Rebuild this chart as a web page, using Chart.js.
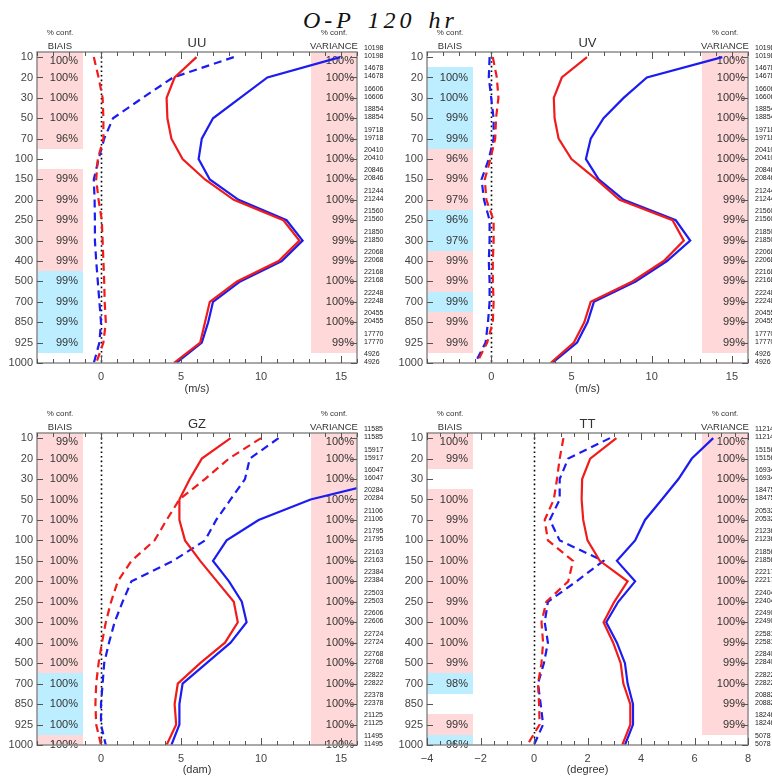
<!DOCTYPE html>
<html>
<head>
<meta charset="utf-8">
<script src="https://cdn.jsdelivr.net/npm/chart.js@4.4.1/dist/chart.umd.min.js"></script>
<style>
  body { margin: 0; background: #fff; width: 772px; height: 778px; position: relative; overflow: hidden; }
  canvas { position: absolute; }
  #title { position: absolute; left: 303px; top: 8px; font: italic 24px 'Liberation Serif', serif; line-height: 24px;
           letter-spacing: 4px; word-spacing: 3px; white-space: pre; color: #111; }
</style>
</head>
<body>
<div id="title">O-P 120 hr</div>
<canvas id="uu" width="386" height="400" style="left:0;top:0"></canvas>
<canvas id="uv" width="386" height="400" style="left:386px;top:0"></canvas>
<canvas id="gz" width="386" height="388" style="left:0;top:390px"></canvas>
<canvas id="tt" width="386" height="388" style="left:386px;top:390px"></canvas>
<script>
// pressure levels (hPa), drawn top to bottom
const levels = [10, 20, 30, 50, 70, 100, 150, 200, 250, 300, 400, 500, 700, 850, 925, 1000];

// UU
const uuRedStd   = [5.97, 4.6, 4.1, 4.15, 4.4, 5.1, 6.5, 8.3, 11.4, 12.4, 11.1, 8.5, 6.8, 6.5, 6.2, 4.55];
const uuBlueStd  = [14.95, 10.4, 8.7, 7.0, 6.3, 6.1, 6.8, 8.6, 11.6, 12.6, 11.3, 8.7, 7.0, 6.7, 6.3, 4.7];
const uuRedBias  = [-0.45, -0.15, 0.1, 0.15, 0.15, -0.2, -0.3, -0.15, 0.05, 0.1, 0.15, 0.2, 0.23, 0.3, 0.15, -0.3];
const uuBlueBias = [8.3, 4.5, 2.6, 0.75, 0.2, -0.15, -0.45, -0.4, -0.38, -0.38, -0.3, -0.2, -0.1, 0.0, -0.1, -0.45];
const uuBiasConf  = ['100%', '100%', '100%', '100%', '96%', null, '99%', '99%', '99%', '99%', '99%', '99%', '99%', '99%', '99%', null];
const uuBiasColor = ['r', 'r', 'r', 'r', 'r', null, 'r', 'r', 'r', 'r', 'r', 'b', 'b', 'b', 'b', null];
const uuVarConf   = ['100%', '100%', '100%', '100%', '100%', '100%', '100%', '100%', '99%', '99%', '99%', '100%', '100%', '100%', '99%', null];
const uuVarColor  = ['r', 'r', 'r', 'r', 'r', 'r', 'r', 'r', 'r', 'r', 'r', 'r', 'r', 'r', 'r', null];
const uuCounts = [10198, 14678, 16606, 18854, 19718, 20410, 20846, 21244, 21560, 21850, 22068, 22168, 22248, 20455, 17770, 4926];

// UV
const uvRedStd   = [5.97, 4.4, 3.9, 3.95, 4.2, 5.0, 6.55, 8.0, 11.3, 12.0, 10.75, 8.8, 6.2, 5.8, 5.15, 3.7];
const uvBlueStd  = [14.4, 9.7, 8.25, 7.0, 6.2, 5.9, 6.7, 8.25, 11.5, 12.4, 10.95, 9.0, 6.4, 6.0, 5.35, 3.8];
const uvRedBias  = [0.1, 0.35, 0.45, 0.3, 0.25, -0.05, -0.4, -0.3, 0.15, 0.15, 0.1, 0.1, 0.15, 0.1, -0.25, -0.9];
const uvBlueBias = [-0.1, -0.15, 0.0, 0.15, 0.15, -0.15, -0.6, -0.45, -0.1, -0.1, -0.15, -0.1, -0.1, -0.2, -0.35, -1.0];
const uvBiasConf  = [null, '100%', '100%', '99%', '99%', '96%', '99%', '97%', '96%', '97%', '99%', '99%', '99%', '99%', '99%', null];
const uvBiasColor = [null, 'b', 'b', 'b', 'b', 'r', 'r', 'r', 'b', 'b', 'r', 'r', 'b', 'r', 'r', null];
const uvVarConf   = ['100%', '100%', '100%', '100%', '100%', '100%', '100%', '99%', '99%', '99%', '99%', '99%', '99%', '99%', '99%', null];
const uvVarColor  = ['r', 'r', 'r', 'r', 'r', 'r', 'r', 'r', 'r', 'r', 'r', 'r', 'r', 'r', 'r', null];
const uvCounts = [10198, 14678, 16606, 18854, 19718, 20410, 20846, 21244, 21560, 21850, 22068, 22168, 22248, 20455, 17770, 4926];

// GZ
const gzRedStd   = [8.1, 6.3, 5.55, 4.9, 4.9, 5.25, 6.2, 7.25, 8.3, 8.55, 7.75, 6.2, 4.8, 4.6, 4.7, 4.1];
const gzBlueStd  = [22.0, 20.5, 18.3, 13.1, 9.85, 7.85, 7.0, 8.0, 8.8, 9.1, 8.1, 6.6, 5.1, 4.9, 4.9, 4.4];
const gzRedBias  = [10.0, 8.0, 6.5, 4.9, 4.1, 3.35, 1.9, 1.05, 0.63, 0.3, 0.06, -0.15, -0.3, -0.35, -0.3, 0.0];
const gzBlueBias = [11.1, 9.3, 9.0, 8.1, 7.2, 6.5, 4.5, 1.9, 1.35, 0.85, 0.5, 0.2, 0.1, 0.0, 0.0, 0.3];
const gzBiasConf  = ['99%', '100%', '100%', '100%', '100%', '100%', '100%', '100%', '100%', '100%', '100%', '100%', '100%', '100%', '100%', '100%'];
const gzBiasColor = ['r', 'r', 'r', 'r', 'r', 'r', 'r', 'r', 'r', 'r', 'r', 'r', 'b', 'b', 'b', 'r'];
const gzVarConf   = ['100%', '100%', '100%', '100%', '100%', '100%', '100%', '100%', '100%', '100%', '100%', '100%', '100%', '100%', '100%', '100%'];
const gzVarColor  = ['r', 'r', 'r', 'r', 'r', 'r', 'r', 'r', 'r', 'r', 'r', 'r', 'r', 'r', 'r', 'r'];
const gzCounts = [11585, 15917, 16047, 20284, 21106, 21795, 22163, 22384, 22503, 22606, 22724, 22768, 22822, 22378, 21125, 11495];

// TT
const ttRedStd   = [3.08, 2.1, 1.8, 1.78, 1.84, 2.0, 2.46, 3.5, 3.0, 2.6, 2.96, 3.24, 3.34, 3.6, 3.6, 3.3];
const ttBlueStd  = [6.7, 5.9, 5.4, 4.78, 4.15, 3.78, 3.1, 3.78, 3.15, 2.7, 3.1, 3.4, 3.5, 3.7, 3.7, 3.4];
const ttRedBias  = [1.1, 0.96, 0.86, 0.74, 0.4, 0.52, 1.46, 1.28, 0.46, 0.28, 0.34, 0.28, 0.15, 0.19, 0.21, -0.25];
const ttBlueBias = [2.84, 1.28, 0.96, 0.96, 0.59, 0.96, 2.59, 1.59, 0.52, 0.4, 0.52, 0.37, 0.15, 0.25, 0.34, 0.0];
const ttBiasConf  = ['100%', '99%', null, '100%', '99%', '100%', '100%', '100%', '99%', '100%', '100%', '99%', '98%', null, '99%', '96%'];
const ttBiasColor = ['r', 'r', null, 'r', 'r', 'r', 'r', 'r', 'r', 'r', 'r', 'r', 'b', null, 'r', 'b'];
const ttVarConf   = ['100%', '100%', '100%', '100%', '100%', '100%', '100%', '100%', '100%', '100%', '99%', '99%', '100%', '99%', '99%', null];
const ttVarColor  = ['r', 'r', 'r', 'r', 'r', 'r', 'r', 'r', 'r', 'r', 'r', 'r', 'r', 'r', 'r', null];
const ttCounts = [11214, 15156, 16934, 18475, 20532, 21236, 21856, 22217, 22404, 22490, 22581, 22840, 22822, 20882, 18246, 5078];

// x tick labels
const windTicks = [0, 5, 10, 15];
const ttTicks = [-4, -2, 0, 2, 4, 6, 8];

const RED = '#f01c1c';
const BLUE = '#1c1cf0';
const PINK = '#ffd9d9';
const CYAN = '#bdeeff';
const FONT = "'Liberation Sans', Arial, sans-serif";
const COLW = 46;

function pts(vals) {
  return vals.map((v, i) => ({ x: v, y: i }));
}

function panelPlugin(o) {
  return {
    id: 'panel_' + o.id,
    beforeDatasetsDraw(chart) {
      const { ctx, chartArea: a, scales: { x, y } } = chart;
      ctx.save();
      const band = (colors, x1, x2) => {
        colors.forEach((c, i) => {
          if (!c) return;
          const y1 = i === 0 ? a.top : Math.round(y.getPixelForValue(i - 0.5));
          const y2 = i === levels.length - 1 ? a.bottom : Math.round(y.getPixelForValue(i + 0.5));
          ctx.fillStyle = c === 'r' ? PINK : CYAN;
          ctx.fillRect(x1, y1, x2 - x1, y2 - y1);
        });
      };
      band(o.biasColor, a.left, a.left + COLW);
      band(o.varColor, a.right - COLW, a.right);

      // confidence labels
      ctx.fillStyle = '#333';
      ctx.font = '11px ' + FONT;
      ctx.textAlign = 'right';
      ctx.textBaseline = 'middle';
      levels.forEach((lv, i) => {
        const ty = Math.max(y.getPixelForValue(i), a.top + 9);
        if (o.biasConf[i]) ctx.fillText(o.biasConf[i], a.left + COLW - 5, ty);
        if (o.varConf[i]) ctx.fillText(o.varConf[i], a.right - 3, ty);
      });

      // zero line
      const x0 = Math.round(x.getPixelForValue(0)) + 0.5;
      ctx.strokeStyle = '#000';
      ctx.lineWidth = 1.6;
      ctx.setLineDash([1.6, 3]);
      ctx.beginPath();
      ctx.moveTo(x0, a.top);
      ctx.lineTo(x0, a.bottom);
      ctx.stroke();
      ctx.restore();
    },
    afterDraw(chart) {
      const { ctx, chartArea: a, scales: { x, y } } = chart;
      ctx.save();
      // frame
      ctx.strokeStyle = '#8c8c8c';
      ctx.lineWidth = 1.5;
      ctx.strokeRect(a.left, a.top, a.right - a.left, a.bottom - a.top);

      // inward ticks
      ctx.strokeStyle = '#555';
      ctx.lineWidth = 1;
      ctx.beginPath();
      levels.forEach((lv, i) => {
        const ty = Math.round(y.getPixelForValue(i)) + 0.5;
        ctx.moveTo(a.left, ty); ctx.lineTo(a.left + 6, ty);
        ctx.moveTo(a.right, ty); ctx.lineTo(a.right - 6, ty);
      });
      const steps = Math.round((o.xmax - o.xmin) / o.minor);
      for (let k = 0; k <= steps; k++) {
        const v = o.xmin + k * o.minor;
        const major = o.xTicks.some(t => Math.abs(t - v) < 1e-6);
        const len = major ? 7 : 4;
        const tx = Math.round(x.getPixelForValue(v)) + 0.5;
        ctx.moveTo(tx, a.bottom); ctx.lineTo(tx, a.bottom - len);
        ctx.moveTo(tx, a.top); ctx.lineTo(tx, a.top + len);
      }
      ctx.stroke();

      // header
      ctx.fillStyle = '#333';
      ctx.textAlign = 'center';
      ctx.textBaseline = 'middle';
      const bc = a.left + COLW / 2;
      const vc = a.right - COLW / 2;
      ctx.font = '8px ' + FONT;
      ctx.fillText('% conf.', bc, a.top - 19);
      ctx.fillText('% conf.', vc, a.top - 19);
      ctx.font = '9.5px ' + FONT;
      ctx.fillText('BIAIS', bc, a.top - 6);
      ctx.fillText('VARIANCE', vc, a.top - 6);
      ctx.font = '13px ' + FONT;
      ctx.fillText(o.name, (a.left + a.right) / 2, a.top - 9);

      // axis title
      ctx.font = '11px ' + FONT;
      ctx.fillText(o.unit, (a.left + a.right) / 2, a.bottom + o.unitGap);

      // counts
      ctx.font = '7px ' + FONT;
      ctx.textAlign = 'left';
      ctx.fillStyle = '#222';
      o.counts.forEach((n, i) => {
        const ty = y.getPixelForValue(i);
        ctx.fillText(String(n), a.right + 7, ty - 9);
        ctx.fillText(String(n), a.right + 7, ty - 1);
      });
      ctx.restore();
    }
  };
}

function makePanel(o) {
  const lines = [
    { data: pts(o.redStd), borderColor: RED, borderDash: [] },
    { data: pts(o.blueStd), borderColor: BLUE, borderDash: [] },
    { data: pts(o.redBias), borderColor: RED, borderDash: [8, 5] },
    { data: pts(o.blueBias), borderColor: BLUE, borderDash: [8, 5] },
  ];
  new Chart(document.getElementById(o.id), {
    type: 'scatter',
    data: {
      datasets: lines.map(d => ({ ...d, showLine: true, pointRadius: 0, borderWidth: 2.2, clip: 0 })),
    },
    options: {
      responsive: false,
      animation: false,
      devicePixelRatio: 1,
      layout: { padding: { top: o.top, right: o.right, left: 0, bottom: 0 } },
      plugins: { legend: { display: false }, tooltip: { enabled: false } },
      scales: {
        x: {
          type: 'linear',
          min: o.xmin,
          max: o.xmax,
          grid: { display: false, drawTicks: false },
          border: { display: false },
          afterBuildTicks: s => { s.ticks = o.xTicks.map(v => ({ value: v })); },
          afterFit: s => { s.height = o.xh; },
          ticks: {
            padding: 7, color: '#444', maxRotation: 0, autoSkip: false,
            font: { family: FONT, size: 11 },
            callback: v => (v < 0 ? '\u2212' + Math.abs(v) : String(v)),
          },
        },
        y: {
          type: 'linear',
          reverse: true,
          min: -0.25,
          max: levels.length - 1,
          grid: { display: false, drawTicks: false },
          border: { display: false },
          afterBuildTicks: s => { s.ticks = levels.map((lv, i) => ({ value: i })); },
          afterFit: s => { s.width = o.left; },
          ticks: {
            padding: 4, color: '#444', autoSkip: false,
            font: { family: FONT, size: 11 },
            callback: v => String(levels[v]),
          },
        },
      },
    },
    plugins: [panelPlugin(o)],
  });
}

makePanel({
  id: 'uu', name: 'UU', unit: '(m/s)', left: 37, top: 52, right: 29, xh: 37, unitGap: 26,
  xmin: -4, xmax: 16, minor: 1, xTicks: windTicks,
  redStd: uuRedStd, blueStd: uuBlueStd, redBias: uuRedBias, blueBias: uuBlueBias,
  biasConf: uuBiasConf, biasColor: uuBiasColor, varConf: uuVarConf, varColor: uuVarColor, counts: uuCounts,
});
makePanel({
  id: 'uv', name: 'UV', unit: '(m/s)', left: 41, top: 52, right: 24, xh: 37, unitGap: 26,
  xmin: -4, xmax: 16, minor: 1, xTicks: windTicks,
  redStd: uvRedStd, blueStd: uvBlueStd, redBias: uvRedBias, blueBias: uvBlueBias,
  biasConf: uvBiasConf, biasColor: uvBiasColor, varConf: uvVarConf, varColor: uvVarColor, counts: uvCounts,
});
makePanel({
  id: 'gz', name: 'GZ', unit: '(dam)', left: 37, top: 43, right: 29, xh: 33, unitGap: 25,
  xmin: -4, xmax: 16, minor: 1, xTicks: windTicks,
  redStd: gzRedStd, blueStd: gzBlueStd, redBias: gzRedBias, blueBias: gzBlueBias,
  biasConf: gzBiasConf, biasColor: gzBiasColor, varConf: gzVarConf, varColor: gzVarColor, counts: gzCounts,
});
makePanel({
  id: 'tt', name: 'TT', unit: '(degree)', left: 41, top: 43, right: 24, xh: 33, unitGap: 25,
  xmin: -4, xmax: 8, minor: 0.5, xTicks: ttTicks,
  redStd: ttRedStd, blueStd: ttBlueStd, redBias: ttRedBias, blueBias: ttBlueBias,
  biasConf: ttBiasConf, biasColor: ttBiasColor, varConf: ttVarConf, varColor: ttVarColor, counts: ttCounts,
});
</script>
</body>
</html>
